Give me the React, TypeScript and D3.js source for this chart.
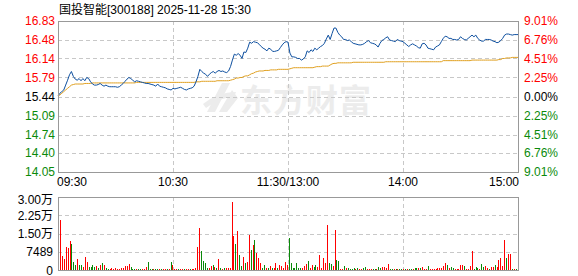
import React from "react";
import * as d3 from "d3";

const title = "国投智能[300188] 2025-11-28 15:30";
const prevClose = 15.44;
const priceTicks = [16.83, 16.48, 16.14, 15.79, 15.44, 15.09, 14.74, 14.4, 14.05];
const priceTickLabels = ["16.83", "16.48", "16.14", "15.79", "15.44", "15.09", "14.74", "14.40", "14.05"];
const pctTickLabels = ["9.01", "6.76", "4.51", "2.25", "0.00", "2.25", "4.51", "6.76", "9.01"];
const timeTicks = [0, 60, 120, 180, 240];
const timeLabels = ["09:30", "10:30", "11:30/13:00", "14:00", "15:00"];
const volTicks = [30000, 22500, 15000, 7489, 0];
const volTickLabels = ["3.00万", "2.25万", "1.50万", "7489", "0"];

const prices = [
  15.45, 15.5, 15.53, 15.56, 15.65, 15.74, 15.84, 15.9, 15.81, 15.76,
  15.74, 15.77, 15.73, 15.77, 15.73, 15.79, 15.77, 15.71, 15.67, 15.65,
  15.65, 15.66, 15.68, 15.65, 15.63, 15.65, 15.63, 15.62, 15.62, 15.62,
  15.62, 15.61, 15.62, 15.65, 15.68, 15.72, 15.76, 15.79, 15.77, 15.74,
  15.71, 15.73, 15.72, 15.71, 15.7, 15.69, 15.68, 15.68, 15.67, 15.66,
  15.65, 15.63, 15.67, 15.63, 15.62, 15.61, 15.6, 15.58, 15.57, 15.56,
  15.59, 15.58, 15.59, 15.6, 15.61, 15.59, 15.57, 15.56, 15.58, 15.59,
  15.6, 15.63, 15.71, 15.81, 15.94, 15.9, 15.87, 15.85, 15.81, 15.85,
  15.88, 15.9, 15.87, 15.9, 15.92, 15.9, 15.91, 15.89, 15.88, 15.91,
  15.99, 16.11, 16.22, 16.2, 16.23, 16.2, 16.14, 16.26, 16.25, 16.33,
  16.44, 16.42, 16.45, 16.44, 16.43, 16.4, 16.36, 16.33, 16.31, 16.28,
  16.33, 16.31, 16.27, 16.27, 16.28, 16.29, 16.34, 16.39, 16.43, 16.45,
  16.44,
  16.24, 16.17, 16.17, 16.16, 16.14, 16.14, 16.11, 16.13, 16.17,
  16.28, 16.25, 16.3, 16.27, 16.33, 16.3, 16.33, 16.36, 16.38, 16.42,
  16.5, 16.57, 16.49, 16.6, 16.7, 16.7, 16.62, 16.57, 16.54, 16.49,
  16.49, 16.47, 16.48, 16.45, 16.42, 16.41, 16.4, 16.39, 16.39, 16.4,
  16.42, 16.45, 16.47, 16.43, 16.42, 16.41, 16.39, 16.35, 16.42, 16.47,
  16.49, 16.52, 16.54, 16.48, 16.47, 16.46, 16.45, 16.49, 16.47, 16.46,
  16.45, 16.42, 16.39, 16.36, 16.39, 16.41, 16.39, 16.37, 16.34, 16.33,
  16.41, 16.42, 16.39, 16.33, 16.32, 16.31, 16.3, 16.35, 16.37, 16.39,
  16.45, 16.51, 16.55, 16.54, 16.51, 16.51, 16.49, 16.49, 16.48, 16.49,
  16.54, 16.51, 16.49, 16.48, 16.51, 16.54, 16.57, 16.54, 16.57, 16.51,
  16.48, 16.46, 16.46, 16.49, 16.49, 16.49, 16.48, 16.46, 16.45, 16.43,
  16.44, 16.47, 16.51, 16.57, 16.59, 16.59, 16.58, 16.57, 16.58, 16.58,
  16.58,
];

const avgPrices = [
  15.44, 15.47, 15.5, 15.53, 15.56, 15.59, 15.62, 15.65, 15.66, 15.67,
  15.67, 15.67, 15.67, 15.67, 15.68, 15.68, 15.68, 15.68, 15.69, 15.69,
  15.69, 15.69, 15.69, 15.69, 15.69, 15.69, 15.69, 15.69, 15.69, 15.69,
  15.69, 15.69, 15.69, 15.69, 15.69, 15.69, 15.69, 15.69, 15.69, 15.69,
  15.69, 15.7, 15.7, 15.7, 15.7, 15.7, 15.7, 15.7, 15.7, 15.7,
  15.7, 15.7, 15.7, 15.7, 15.7, 15.7, 15.7, 15.7, 15.7, 15.7,
  15.7, 15.7, 15.7, 15.7, 15.7, 15.7, 15.7, 15.7, 15.7, 15.7,
  15.7, 15.7, 15.71, 15.71, 15.71, 15.72, 15.72, 15.72, 15.72, 15.72,
  15.72, 15.72, 15.72, 15.73, 15.73, 15.73, 15.73, 15.73, 15.73, 15.73,
  15.74, 15.75, 15.76, 15.78, 15.78, 15.79, 15.79, 15.81, 15.82, 15.82,
  15.84, 15.86, 15.87, 15.89, 15.9, 15.91, 15.91, 15.91, 15.92, 15.92,
  15.92, 15.93, 15.93, 15.93, 15.93, 15.94, 15.94, 15.94, 15.94, 15.94,
  15.94, 15.95, 15.96, 15.97, 15.97, 15.97, 15.97, 15.97, 15.97, 15.97,
  15.97, 15.97, 15.97, 15.97, 15.98, 15.99, 15.99, 15.99, 16.0, 16.0,
  16.0, 16.0, 16.02, 16.04, 16.05, 16.05, 16.06, 16.06, 16.06, 16.06,
  16.06, 16.06, 16.06, 16.06, 16.07, 16.07, 16.07, 16.07, 16.07, 16.07,
  16.07, 16.07, 16.07, 16.07, 16.07, 16.07, 16.07, 16.07, 16.07, 16.07,
  16.07, 16.08, 16.08, 16.08, 16.08, 16.08, 16.08, 16.08, 16.08, 16.08,
  16.08, 16.08, 16.08, 16.08, 16.08, 16.08, 16.08, 16.08, 16.08, 16.08,
  16.08, 16.08, 16.08, 16.08, 16.08, 16.08, 16.08, 16.08, 16.08, 16.08,
  16.08, 16.1, 16.1, 16.1, 16.1, 16.1, 16.1, 16.1, 16.1, 16.1,
  16.1, 16.1, 16.1, 16.1, 16.1, 16.1, 16.11, 16.11, 16.11, 16.11,
  16.11, 16.11, 16.11, 16.11, 16.11, 16.11, 16.11, 16.11, 16.11, 16.11,
  16.12, 16.12, 16.14, 16.14, 16.15, 16.15, 16.15, 16.16, 16.16, 16.16,
  16.16,
];

const volumes = [
  20550, 5750, 4520, 9450, 8900, 11900, 10690, 3150, 2055, 4520,
  2055, 2055, 1233, 5340, 3425, 1233, 1233, 2055, 1370, 1644,
  960, 2055, 2877, 2055, 960, 411, 411, 685, 411, 685,
  411, 411, 685, 960, 1644, 1644, 2330, 1370, 411, 411,
  411, 411, 411, 411, 411, 1370, 3150, 411, 411, 411,
  411, 411, 411, 411, 411, 411, 411, 411, 3150, 2055,
  411, 411, 274, 411, 274, 411, 274, 411, 274, 411,
  411, 960, 9450, 17260, 7810, 3700, 2740, 960, 685, 1644,
  2055, 1370, 960, 4520, 685, 411, 685, 685, 685, 960,
  27800, 13970, 10690, 16030, 6165, 1644, 5480, 3014, 3425, 14390,
  8220, 10275, 12330, 6850, 5070, 2740, 960, 2055, 685, 685,
  1644, 685, 960, 2740, 685, 2055, 1644, 960, 3150, 2055,
  13290,
  3014, 960, 960, 3014, 960, 960, 960, 1644, 2466,
  3700, 960, 2055, 1370, 2055, 1370, 6165, 960, 5070, 3014,
  18500, 3014, 2466, 1781, 16440, 4110, 3700, 411, 411, 1644,
  685, 960, 411, 411, 685, 411, 685, 411, 411, 685,
  1233, 411, 411, 411, 411, 411, 411, 1096, 685, 1096,
  1233, 960, 2330, 411, 274, 274, 274, 274, 274, 274,
  274, 274, 274, 274, 274, 411, 685, 685, 685, 685,
  1233, 411, 411, 1644, 411, 411, 411, 411, 685, 685,
  960, 1644, 2740, 2055, 685, 1096, 685, 411, 411, 411,
  2055, 2055, 1644, 411, 411, 1644, 7810, 411, 1370, 960,
  411, 2330, 1370, 1644, 685, 411, 1233, 1233, 2055, 1370,
  4110, 5070, 1500, 12330, 5070, 6576, 6576, 411, 274, 274,
  11370,
];

// 1 = up (red), -1 = down (green)
const volDirs = [
  1, 1, 1, 1, 1, 1, -1, -1, -1, 1,
  -1, -1, 1, 1, 1, -1, -1, -1, -1, 1,
  -1, 1, -1, 1, -1, -1, 1, 1, 1, 1,
  1, 1, 1, 1, 1, 1, 1, -1, -1, -1,
  1, -1, -1, 1, 1, 1, -1, -1, -1, 1,
  -1, -1, 1, -1, 1, 1, -1, 1, -1, 1,
  1, 1, -1, 1, 1, -1, 1, 1, -1, 1,
  1, 1, 1, 1, -1, -1, -1, -1, 1, 1,
  -1, 1, -1, 1, -1, 1, -1, 1, 1, 1,
  1, 1, -1, 1, -1, -1, 1, -1, 1, 1,
  -1, 1, -1, 1, 1, 1, -1, -1, 1, -1,
  1, -1, 1, 1, -1, 1, 1, 1, 1, 1,
  -1,
  -1, -1, -1, -1, -1, -1, 1, 1, 1,
  -1, 1, 1, -1, -1, 1, 1, 1, 1, 1,
  1, -1, -1, 1, 1, -1, -1, 1, 1, -1,
  1, -1, -1, -1, -1, 1, -1, 1, 1, -1,
  -1, 1, 1, 1, -1, -1, 1, -1, -1, 1,
  1, 1, 1, -1, -1, 1, -1, 1, -1, -1,
  1, -1, 1, -1, -1, 1, -1, -1, 1, -1,
  1, 1, 1, -1, 1, 1, 1, 1, 1, 1,
  1, 1, 1, -1, 1, -1, -1, 1, 1, 1,
  1, 1, -1, 1, 1, 1, 1, -1, -1, -1,
  1, -1, -1, 1, 1, -1, 1, 1, -1, 1,
  1, 1, 1, 1, -1, 1, 1, -1, 1, -1,
  1,
];

const W = 578;
const H = 276;
const FONT = "'Liberation Sans', Arial, 'Noto Sans CJK SC', sans-serif";
const RED = "#ff0000";
const GREEN = "#0a8a0a";
const GRID = "#c8c8c8";
const BORDER = "#999999";

export default function App() {
  const left = 58;
  const right = 518;
  const top = 21;
  const bottom = 172;
  const vTop = 197;
  const vBottom = 270;

  const x = d3.scaleLinear().domain([0, 240]).range([left, right]);
  const xBar = d3.scaleLinear().domain([0, 240]).range([60, 517.5]);
  const y = d3.scaleLinear().domain([14.05, 16.83]).range([bottom, top]);
  const yv = d3.scaleLinear().domain([0, 30000]).range([vBottom, vTop]);

  const line = d3
    .line<number>()
    .x((_, i) => x(i))
    .y((d) => y(d));

  const labelColor = (v: number) =>
    Math.abs(v - prevClose) < 0.001 ? "#000" : v > prevClose ? RED : GREEN;

  return (
    <svg
      width={W}
      height={H}
      style={{ position: "absolute", left: 0, top: 0, background: "#fff" }}
      fontFamily={FONT}
      fontSize={12}
    >
      <rect width={W} height={H} fill="#fff" />
      {/* watermark */}
      <g fill="#ececec">
        <path d="M207,112 L222,83 L230,83 L215,112 Z" />
        <path d="M219,112 L232,90 L238,98 L227,112 Z" />
        <path d="M203,104 Q218,92 236,92 L234,97 Q220,97 206,108 Z" />
        <text x={240} y={112} fontSize={32} fontWeight="bold" fontFamily="'Noto Sans CJK SC', sans-serif" letterSpacing={1}>
          东方财富
        </text>
      </g>

      {/* title */}
      <text x={59} y={13.5} fill="#000">
        {title}
      </text>

      {/* price grid */}
      {priceTicks.slice(1, -1).map((p, i) => (
        <line key={"pg" + i} x1={left} x2={right} y1={Math.round(y(p)) + 0.5} y2={Math.round(y(p)) + 0.5}
          stroke={GRID} strokeDasharray="4,3" />
      ))}
      {timeTicks.slice(1, -1).map((t, i) => (
        <g key={"vg" + i}>
          <line x1={Math.round(x(t)) + 0.5} x2={Math.round(x(t)) + 0.5} y1={top} y2={bottom} stroke={GRID} strokeDasharray="4,3" />
          <line x1={Math.round(x(t)) + 0.5} x2={Math.round(x(t)) + 0.5} y1={vTop} y2={vBottom} stroke={GRID} strokeDasharray="4,3" />
        </g>
      ))}
      {volTicks.slice(1, -1).map((v, i) => (
        <line key={"vgl" + i} x1={left} x2={right} y1={Math.round(yv(v)) + 0.5} y2={Math.round(yv(v)) + 0.5}
          stroke={GRID} strokeDasharray="4,3" />
      ))}

      {/* lines */}
      <path d={line(avgPrices) || ""} fill="none" stroke="#e0a020" strokeWidth={1} />
      <path d={line(prices) || ""} fill="none" stroke="#0d4f9f" strokeWidth={1} />

      {/* volume bars */}
      {volumes.map((v, i) => (
        <rect key={"vb" + i} x={Math.round(xBar(i))} width={1} y={Math.round(yv(v))} height={vBottom - Math.round(yv(v))}
          fill={volDirs[i] > 0 ? RED : GREEN} shapeRendering="crispEdges" />
      ))}

      {/* borders */}
      <rect x={left + 0.5} y={top + 0.5} width={right - left} height={bottom - top} fill="none" stroke={BORDER} />
      <rect x={left + 0.5} y={vTop + 0.5} width={right - left} height={vBottom - vTop} fill="none" stroke={BORDER} />

      {/* price labels */}
      {priceTicks.map((p, i) => (
        <text key={"pl" + i} x={55} y={y(p) + 4.3} textAnchor="end" fill={labelColor(p)}>
          {priceTickLabels[i]}
        </text>
      ))}
      {priceTicks.map((p, i) => (
        <text key={"rl" + i} x={524} y={y(p) + 4.3} fill={labelColor(p)}>
          {pctTickLabels[i]}%
        </text>
      ))}

      {/* time labels */}
      {timeTicks.map((t, i) => (
        <text key={"tl" + i} x={i === 0 ? left - 1 : i === timeTicks.length - 1 ? right + 1 : x(t)} y={186}
          textAnchor={i === 0 ? "start" : i === timeTicks.length - 1 ? "end" : "middle"} fill="#000">
          {timeLabels[i]}
        </text>
      ))}

      {/* volume labels */}
      {volTicks.map((v, i) => (
        <text key={"vl" + i} x={53} y={Math.min(275, Math.max(204, yv(v) + 4.5))} textAnchor="end" fill="#000">
          {volTickLabels[i]}
        </text>
      ))}
    </svg>
  );
}
